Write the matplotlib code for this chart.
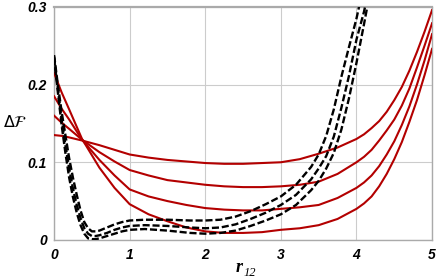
import numpy as np
import matplotlib
matplotlib.use("Agg")
import matplotlib.pyplot as plt

# red curves (solid)
red_x = [0, 0.1, 0.2, 0.37, 0.6, 0.8, 1.0, 1.25, 1.5, 1.75, 2.0, 2.25, 2.5, 2.75, 3.0,
         3.25, 3.5, 3.75, 4.0, 4.1, 4.2, 4.3, 4.4, 4.5, 4.6, 4.7, 4.8, 4.9, 5.0]
red_1 = [0.135, 0.134, 0.132, 0.128, 0.122, 0.116, 0.110, 0.106, 0.103, 0.101, 0.099, 0.098,
         0.098, 0.099, 0.100, 0.104, 0.111, 0.119, 0.130, 0.136, 0.144, 0.153, 0.165, 0.180,
         0.197, 0.218, 0.242, 0.268, 0.296]
red_2 = [0.160, 0.151, 0.143, 0.129, 0.113, 0.101, 0.090, 0.083, 0.077, 0.074, 0.071, 0.069,
         0.068, 0.068, 0.069, 0.071, 0.075, 0.085, 0.100, 0.107, 0.116, 0.128, 0.141, 0.155,
         0.173, 0.195, 0.222, 0.250, 0.279]
red_3 = [0.185, 0.169, 0.155, 0.129, 0.103, 0.083, 0.065, 0.056, 0.050, 0.045, 0.041, 0.039,
         0.038, 0.038, 0.040, 0.042, 0.045, 0.054, 0.067, 0.074, 0.083, 0.095, 0.110, 0.127,
         0.148, 0.172, 0.200, 0.231, 0.265]
red_4 = [0.215, 0.190, 0.168, 0.130, 0.093, 0.067, 0.046, 0.033, 0.024, 0.016, 0.011, 0.009,
         0.009, 0.010, 0.013, 0.015, 0.019, 0.027, 0.040, 0.047, 0.056, 0.069, 0.085, 0.104,
         0.126, 0.152, 0.180, 0.212, 0.246]

# black dashed curves
blk_x = [0, 0.05, 0.1, 0.15, 0.2, 0.25, 0.3, 0.35, 0.4, 0.45, 0.5, 0.55, 0.6, 0.7, 0.8, 0.9,
         1.0, 1.2, 1.5, 1.8, 2.0, 2.2, 2.4, 2.6, 2.8, 3.0, 3.2, 3.4, 3.5, 3.6, 3.7, 3.8,
         3.9, 4.0, 4.1, 4.2]
blk_1 = [0.238, 0.200, 0.165, 0.135, 0.105, 0.080, 0.058, 0.038, 0.023, 0.015, 0.011, 0.011,
         0.012, 0.016, 0.020, 0.023, 0.025, 0.026, 0.026, 0.025, 0.025, 0.026, 0.030, 0.037,
         0.046, 0.056, 0.071, 0.094, 0.110, 0.134, 0.168, 0.210, 0.248, 0.285, 0.330, 0.380]
blk_2 = [0.236, 0.195, 0.155, 0.122, 0.092, 0.066, 0.045, 0.028, 0.015, 0.008, 0.005, 0.005,
         0.006, 0.009, 0.013, 0.016, 0.018, 0.019, 0.018, 0.016, 0.015, 0.016, 0.020, 0.027,
         0.035, 0.045, 0.058, 0.078, 0.092, 0.108, 0.133, 0.170, 0.211, 0.258, 0.294, 0.340]
blk_3 = [0.234, 0.190, 0.148, 0.112, 0.080, 0.055, 0.035, 0.019, 0.008, 0.002, 0.001, 0.001,
         0.002, 0.005, 0.008, 0.011, 0.013, 0.014, 0.012, 0.009, 0.008, 0.009, 0.012, 0.018,
         0.025, 0.033, 0.045, 0.064, 0.076, 0.092, 0.112, 0.142, 0.182, 0.228, 0.278, 0.330]

x_ticks = [0, 1, 2, 3, 4, 5]
y_ticks = [0, 0.1, 0.2, 0.3]
y_tick_labels = ['0', '0.1', '0.2', '0.3']

fig = plt.figure(figsize=(4.36, 2.78), dpi=100)
ax = fig.add_axes([0.124, 0.137, 0.867, 0.838])

red = '#b30000'
for ys in [red_1, red_2, red_3, red_4]:
    ax.plot(red_x, ys, color=red, lw=1.5, zorder=3)
for ys in [blk_1, blk_2, blk_3]:
    ax.plot(blk_x, ys, color='black', lw=1.7, ls=(0, (3, 1.2)), zorder=4)

ax.set_xlim(0, 5)
ax.set_ylim(0, 0.3)
ax.set_xticks(x_ticks)
ax.set_yticks(y_ticks)
ax.set_yticklabels(y_tick_labels)
ax.grid(True, color='#cccccc', lw=0.8)
ax.tick_params(axis='x', length=0, pad=6)
ax.tick_params(axis='y', length=0, pad=5)
for lab in ax.get_xticklabels() + ax.get_yticklabels():
    lab.set_fontfamily('Liberation Sans')
    lab.set_fontweight('bold')
    lab.set_fontstyle('italic')
    lab.set_fontsize(10)
for s in ax.spines.values():
    s.set_color('#aaaaaa')
    s.set_linewidth(1.0)
ax.spines['top'].set_linewidth(1.6)

fig.text(0.035, 0.56, r'$\Delta\mathcal{F}$', fontsize=11.5, ha='center', va='center')
fig.text(0.557, 0.02, 'r', fontsize=13,
         fontfamily='Liberation Serif', fontweight='bold', fontstyle='italic',
         ha='right', va='baseline')
fig.text(0.558, 0.007, '12', fontsize=9, fontfamily='Liberation Serif',
         fontstyle='italic', ha='left', va='baseline')

fig.savefig('out.png', dpi=100)
